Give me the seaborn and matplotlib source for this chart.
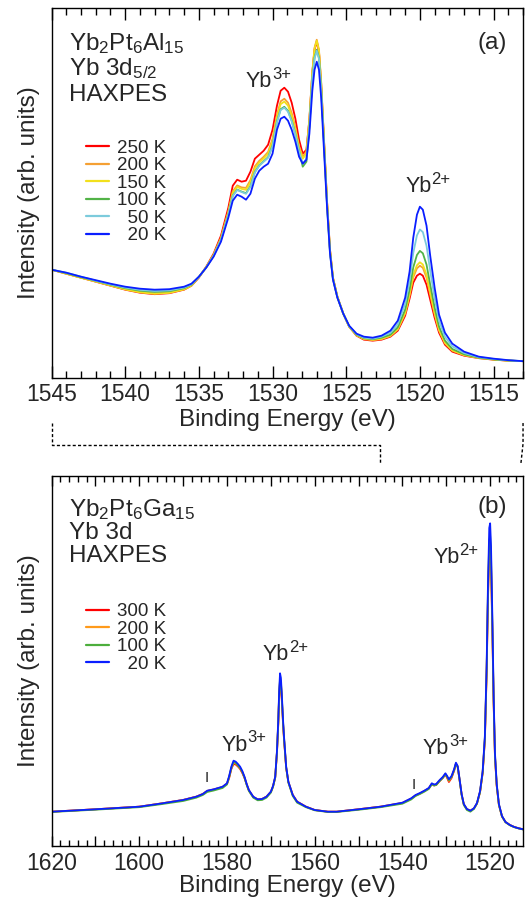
import matplotlib
matplotlib.use("Agg")
import matplotlib.pyplot as plt
import seaborn as sns
from matplotlib.ticker import MultipleLocator, FuncFormatter
from matplotlib.lines import Line2D

# ---------------- data: panel (a) Yb2Pt6Al15, Yb 3d5/2 ----------------
E_a = [1545, 1544, 1543, 1542, 1541, 1540, 1539, 1538, 1537, 1536,
       1535.5, 1535, 1534.5, 1534, 1533.5, 1533, 1532.7, 1532.4, 1532.1, 1531.8,
       1531.5, 1531.2, 1530.9, 1530.6, 1530.3, 1530.0, 1529.7, 1529.45, 1529.2, 1528.95,
       1528.7, 1528.45, 1528.2, 1527.95, 1527.7, 1527.5, 1527.3, 1527.15, 1527.0, 1526.85,
       1526.7, 1526.5, 1526.3, 1526.1, 1525.9, 1525.6, 1525.2, 1524.8, 1524.3, 1523.8,
       1523.2, 1522.6, 1522.0, 1521.5, 1521.0, 1520.7, 1520.45, 1520.2, 1520.0, 1519.8,
       1519.55, 1519.3, 1519.0, 1518.7, 1518.3, 1517.8, 1517.0, 1516.0, 1515.0, 1514.0,
       1513.0]

I_a_250 = [108, 104, 100, 96, 92, 88, 85, 83.5, 84.5, 88,
           92, 100, 111, 124, 142, 170, 192, 198, 196, 197,
           206, 219, 223, 227, 233, 248, 272, 287, 290, 286,
           275, 259, 238, 224, 228, 258, 305, 328, 336, 326,
           294, 235, 176, 128, 100, 81, 64, 51, 42, 38,
           37, 38, 41, 47, 62, 79, 95, 102, 104, 102,
           93, 78, 60, 45, 33, 26, 22, 19.5, 18, 17,
           16.5]
I_a_200 = [108, 104, 100, 96.2, 92.3, 88.5, 85.6, 84.2, 85.1, 88.5,
           92.3, 100.4, 110.6, 122.9, 139.7, 166.2, 186.3, 192.3, 190.3, 189.8,
           197.6, 211.4, 216.9, 220.9, 225.8, 238.9, 262.9, 276.4, 279, 275,
           264.7, 250.3, 231.5, 221, 226, 259, 306, 330, 338, 328,
           296, 236, 176, 128, 100, 81, 64, 51, 42.3, 38.5,
           37.5, 38.5, 41.7, 48.2, 64.2, 82.2, 100.4, 109.3, 112, 109.9,
           100.1, 83.3, 63.6, 47.2, 34.4, 27, 22.5, 19.7, 18.1, 17,
           16.5]
I_a_150 = [108, 104, 100, 96.2, 92.2, 88.3, 85.4, 83.9, 84.9, 88.3,
           92.2, 100.5, 110.5, 122.6, 139.1, 165.2, 184.8, 190.8, 188.8, 187.9,
           195.4, 209.4, 215.3, 219.3, 223.9, 236.5, 260.5, 273.6, 276.1, 272.1,
           262, 248, 229.8, 219, 224, 257, 305, 329, 337, 327,
           295, 235, 175, 127, 99.5, 81, 64, 51, 42.5, 39,
           38, 39, 42, 48.7, 65.1, 83.6, 102.7, 112.4, 115.4, 113.2,
           103, 85.5, 65.1, 48.1, 35, 27.4, 22.7, 19.8, 18.2, 17,
           16.5]
I_a_100 = [108, 104.5, 100.5, 96.8, 93, 89.5, 87, 85.8, 86.5, 89.5,
           93, 100.7, 110.3, 122, 138, 163.4, 182.1, 188.1, 186.1, 184.5,
           191.5, 205.8, 212.4, 216.4, 220.5, 232.2, 256.2, 268.5, 270.9, 266.9,
           257.2, 243.8, 226.8, 211, 216, 251, 299, 320, 328, 320,
           290, 232, 173, 126, 99, 80.5, 64, 51.5, 43, 39.5,
           38.5, 40, 43, 50.4, 68.1, 88.2, 110.3, 122.7, 126.8, 124.4,
           113.1, 93, 70.2, 51.1, 37.1, 28.7, 23.4, 20, 18.3, 17.2,
           16.5]
I_a_50 = [108, 105, 101, 97, 93.4, 90.1, 87.8, 86.7, 87.3, 90.1,
          93.4, 100.7, 110.3, 121.9, 137.9, 163.1, 181.7, 187.7, 185.7, 183.9,
          190.8, 205.2, 212, 216, 219.9, 231.4, 255.4, 267.7, 270, 266,
          256.4, 243.1, 226.3, 214, 219, 251, 299, 319, 327, 319,
          289, 231, 172, 125, 98.5, 80.5, 64, 51.5, 43.5, 40,
          39, 41, 45, 53.6, 73.9, 96.8, 124.7, 142.3, 148.2, 145.6,
          131.9, 107, 79.8, 56.9, 40.9, 31.3, 24.6, 20.5, 18.7, 17.3,
          16.5]
I_a_20 = [108, 105, 101, 97.5, 94, 91, 89, 88, 88.5, 91,
          94, 101, 110, 121, 136, 160, 177, 183, 181, 178,
          184, 199, 207, 211, 214, 224, 248, 259, 261, 257,
          248, 236, 221, 214, 218, 244, 287, 308, 316, 308,
          280, 225, 170, 124, 98, 80, 64, 52, 44, 41,
          40, 42, 47, 57, 80, 106, 140, 163, 171, 168,
          152, 122, 90, 63, 45, 34, 26, 21, 19, 17.5,
          16.5]

labels_a = ["250 K", "200 K", "150 K", "100 K", "  50 K", "  20 K"]
series_a = [I_a_250, I_a_200, I_a_150, I_a_100, I_a_50, I_a_20]
colors_a = ["#ff0000", "#f5a033", "#f2e01c", "#52b347", "#7ccbdc", "#0a1eff"]

# ---------------- data: panel (b) Yb2Pt6Ga15, Yb 3d ----------------
E_b = [1620, 1610, 1600, 1595, 1590, 1587, 1585.5, 1584.5, 1583, 1581,
       1580, 1579.5, 1579, 1578.5, 1578, 1577.5, 1577, 1576.5, 1576, 1575.5,
       1575, 1574, 1573, 1572, 1571, 1570, 1569.5, 1569, 1568.6, 1568.3,
       1568.1, 1567.9, 1567.7, 1567.5, 1567.2, 1567.0, 1566.5, 1566, 1565, 1564,
       1562, 1560, 1557, 1555, 1550, 1545, 1540, 1538, 1537, 1536,
       1535, 1534, 1533.3, 1532.8, 1532.3, 1531.5, 1530.8, 1530.2, 1529.8, 1529.4,
       1528.8, 1528.2, 1527.8, 1527.4, 1527.0, 1526.5, 1526.0, 1525.3, 1524.5, 1523.7,
       1523.0, 1522.3, 1521.7, 1521.2, 1520.8, 1520.5, 1520.2, 1520.0, 1519.8, 1519.5,
       1519.2, 1518.9, 1518.5, 1518.0, 1517.3, 1516.5, 1515.5, 1514.5, 1513.5, 1512.5]

I_b_300 = [34.3, 36.7, 39.3, 42.5, 46, 49.3, 52, 55, 56.5, 59,
           62, 68, 77, 82, 81.5, 79.5, 77, 73, 68, 61.5,
           55.5, 49, 46.5, 47, 49.3, 54, 59.5, 68.5, 93, 122,
           149, 164, 161, 146, 121, 107, 78, 64, 51, 44.3,
           39.3, 36, 34.3, 34.3, 36.7, 39.3, 43, 47.3, 50.5, 52.5,
           55, 57.5, 62, 60.5, 61, 65, 68, 71.5, 68, 64,
           68, 75.5, 82, 79, 67, 51.5, 41.5, 36.8, 35.3, 37.5,
           42.5, 54, 73, 106, 172, 245, 296, 300, 280, 216,
           142, 89, 60, 41, 29.5, 24, 21, 19, 17.7, 16.7]
I_b_200 = [34.3, 36.7, 39.3, 42.5, 46, 49.3, 52, 55, 56.5, 59,
           62.3, 69, 78, 83, 82.5, 80.5, 78, 74, 68.5, 61.7,
           55.7, 49, 46.5, 47, 49.3, 54, 59.7, 68.8, 94, 123,
           151, 166, 163, 148, 122, 108, 78.5, 64, 51, 44.3,
           39.3, 36, 34.3, 34.3, 36.7, 39.3, 43, 47.3, 50.5, 52.5,
           55, 57.5, 62.2, 61, 61.5, 65.5, 68.5, 72, 69, 65,
           69, 76, 82.5, 79.5, 67.5, 51.5, 41.5, 36.8, 35.3, 37.5,
           42.5, 54, 73.5, 107, 174, 249, 300, 304, 284, 219,
           144, 90, 60.5, 41.5, 29.7, 24, 21, 19, 17.7, 16.7]
I_b_100 = [34, 36.3, 38.8, 41.8, 45, 48.3, 51, 54, 55.5, 58,
           61.5, 69, 78, 84, 83, 80.5, 78, 74, 68.3, 61,
           55, 48.3, 45.7, 46, 48.3, 53.3, 59, 68.3, 94, 124,
           152, 167, 164, 149, 123, 108.5, 78.3, 63.3, 50, 43.3,
           38.8, 35.7, 34, 34, 36.2, 38.8, 42.3, 46.5, 50, 52,
           54.3, 57, 61.7, 60.5, 61, 65, 68, 71.7, 69, 65.7,
           69, 76, 82.3, 79, 67, 51, 41, 36, 34.3, 37,
           42.5, 54, 74, 108, 176, 253, 306, 310, 290, 222,
           146, 91, 61, 41, 29.5, 23.7, 20.7, 18.8, 17.5, 16.5]
I_b_20 = [34.3, 36.7, 39.3, 42.5, 46, 49.3, 52, 55.3, 56.7, 59.3,
          62.7, 70, 79.3, 85.3, 84.3, 82, 79.3, 75, 69.3, 62,
          56, 49.3, 46.7, 47, 49.3, 54.3, 60, 69.3, 95, 126,
          155, 172.7, 168, 152, 125, 110, 79.3, 64.3, 51, 44.3,
          39.3, 36, 34.3, 34.3, 36.7, 39.3, 43.3, 47.7, 51, 53,
          55.3, 58, 62.7, 61.5, 62, 66, 69, 72.7, 70, 66.7,
          70, 77, 83.3, 80, 68, 52, 42, 37, 35.3, 37.7,
          43, 55, 75, 110, 180, 260, 318, 322.7, 300, 230,
          150, 93, 62, 42, 30, 24, 21, 19, 17.7, 16.7]

labels_b = ["300 K", "200 K", "100 K", "  20 K"]
series_b = [I_b_300, I_b_200, I_b_100, I_b_20]
colors_b = ["#ff0000", "#ff9a1a", "#4cae3c", "#0a1eff"]

# ---------------- style ----------------
sns.set_style("ticks")
plt.rcParams["font.family"] = ["Liberation Sans", "DejaVu Sans"]
plt.rcParams["mathtext.fontset"] = "custom"
plt.rcParams["mathtext.rm"] = "Liberation Sans"
plt.rcParams["mathtext.it"] = "Liberation Sans:italic"
plt.rcParams["mathtext.default"] = "regular"
plt.rcParams["axes.linewidth"] = 1.0

FS = 17.5
fig = plt.figure(figsize=(5.31, 9.02), dpi=100)
ax_a = fig.add_axes([0.0970, 0.5813, 0.888, 0.4098])
ax_b = fig.add_axes([0.0970, 0.0621, 0.888, 0.4102])

for I, lab, c in zip(series_a, labels_a, colors_a):
    sns.lineplot(x=E_a, y=I, ax=ax_a, color=c, lw=1.3, label=lab, sort=False, estimator=None)
for I, lab, c in zip(series_b, labels_b, colors_b):
    sns.lineplot(x=E_b, y=I, ax=ax_b, color=c, lw=1.3, label=lab, sort=False, estimator=None)

ax_a.set_xlim(1545, 1513)
ax_a.set_ylim(0, 369.7)
ax_b.set_xlim(1620, 1512.5)
ax_b.set_ylim(0, 370)

ax_a.xaxis.set_major_locator(MultipleLocator(5))
ax_a.xaxis.set_minor_locator(MultipleLocator(1))
ax_b.xaxis.set_major_locator(MultipleLocator(10))
ax_b.xaxis.set_minor_locator(MultipleLocator(2))
ax_b.xaxis.set_major_formatter(FuncFormatter(
    lambda v, p: f"{int(round(v))}" if int(round(v)) % 20 == 0 else ""))

for ax, (maj, mnr) in ((ax_a, (8.5, 5)), (ax_b, (7.5, 4))):
    ax.set_yticks([])
    ax.tick_params(axis="x", which="both", direction="in", top=True, bottom=True,
                   width=1.0, color="black", labelsize=16.5, pad=4)
    ax.tick_params(axis="x", which="major", length=maj)
    ax.tick_params(axis="x", which="minor", length=mnr)
    for s in ax.spines.values():
        s.set_color("black")
        s.set_linewidth(1.0)
    ax.set_xlabel("Binding Energy (eV)", fontsize=FS)
    ax.set_ylabel("Intensity (arb. units)", fontsize=FS)
    ax.yaxis.set_label_coords(-0.024, 0.5)

ax_a.xaxis.set_label_coords(0.5, -0.084)
ax_b.xaxis.set_label_coords(0.5, -0.078)

# legends
for ax, y0 in ((ax_a, 0.644), (ax_b, 0.656)):
    leg = ax.legend(loc="upper left", bbox_to_anchor=(0.073, y0), frameon=False,
                    fontsize=13.5, handlelength=1.25, handletextpad=0.4,
                    labelspacing=0.02, borderpad=0, borderaxespad=0)
    for h in leg.get_lines():
        h.set_linewidth(1.6)

# panel texts
ax_a.text(0.038, 0.886, "Yb$_2$Pt$_6$Al$_{15}$", transform=ax_a.transAxes, fontsize=FS, va="baseline")
ax_a.text(0.038, 0.819, "Yb 3d$_{5/2}$", transform=ax_a.transAxes, fontsize=FS, va="baseline")
ax_a.text(0.038, 0.749, "HAXPES", transform=ax_a.transAxes, fontsize=FS, va="baseline")
ax_a.text(0.934, 0.905, "(a)", transform=ax_a.transAxes, fontsize=FS, ha="center", va="center")

ax_b.text(0.038, 0.892, "Yb$_2$Pt$_6$Ga$_{15}$", transform=ax_b.transAxes, fontsize=FS, va="baseline")
ax_b.text(0.038, 0.829, "Yb 3d", transform=ax_b.transAxes, fontsize=FS, va="baseline")
ax_b.text(0.038, 0.767, "HAXPES", transform=ax_b.transAxes, fontsize=FS, va="baseline")
ax_b.text(0.934, 0.917, "(b)", transform=ax_b.transAxes, fontsize=FS, ha="center", va="center")

PK = 15.5


def ion_label(ax, x, y, charge):
    base = ax.text(x, y, "Yb", fontsize=PK, ha="left", va="baseline")
    ax.annotate(charge, xy=(1, 0), xycoords=base, xytext=(0.0, 9.5),
                textcoords="offset points", fontsize=12, ha="left", va="baseline")


ion_label(ax_a, 1531.8, 290.4, "3+")
ion_label(ax_a, 1521.0, 185.4, "2+")
ion_label(ax_b, 1571.8, 186, "2+")
ion_label(ax_b, 1581.3, 95.3, "3+")
ion_label(ax_b, 1535.3, 91.7, "3+")
ion_label(ax_b, 1533.0, 282.7, "2+")
ax_b.text(1584.6, 67.7, "I", fontsize=11, ha="center", va="center")
ax_b.text(1537.4, 61, "I", fontsize=11, ha="center", va="center")

# dotted connectors between the panels
def fx(ax, e):
    d = ax.transData.transform((e, 0))
    return fig.transFigure.inverted().transform(d)[0]

ls = (0, (2.2, 1.6))
xa1, xb1 = fx(ax_a, 1545), fx(ax_b, 1545)
xa2, xb2 = fx(ax_a, 1513), fx(ax_b, 1513)
fig.add_artist(Line2D([xa1, xa1, xb1, xb1], [0.531, 0.5061, 0.5061, 0.4856],
                      transform=fig.transFigure, color="black", lw=1.0, linestyle=ls))
fig.add_artist(Line2D([xa2, xa2, xb2], [0.531, 0.508, 0.4856],
                      transform=fig.transFigure, color="black", lw=1.0, linestyle=ls))

fig.savefig("out.png", dpi=100)
